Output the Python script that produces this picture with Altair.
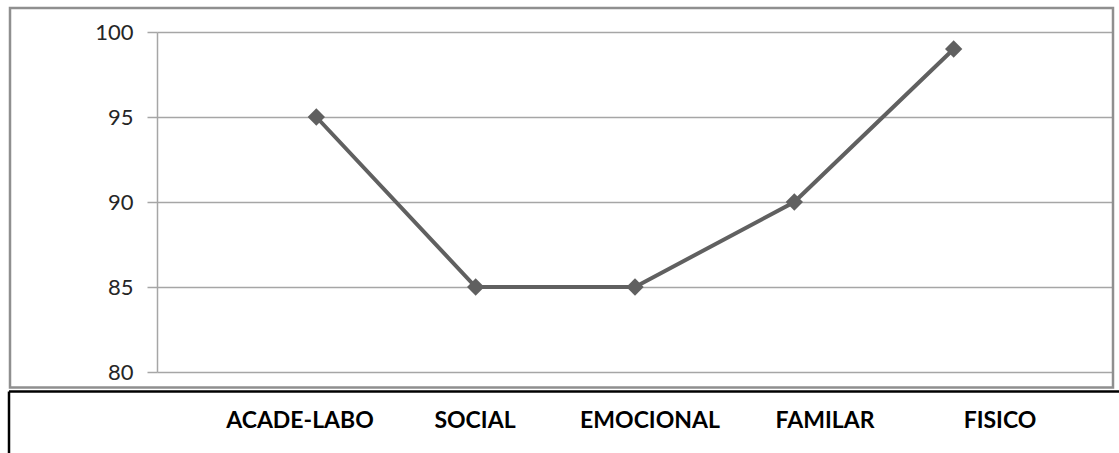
import altair as alt
import pandas as pd

categories = ["ACADE-LABO", "SOCIAL", "EMOCIONAL", "FAMILAR", "FISICO"]
values = [95, 85, 85, 90, 99]
y_ticks = [80, 85, 90, 95, 100]

df = pd.DataFrame({"cat": categories, "val": values})
one = alt.Data(values=[{"a": 1}])

W, H = 956, 340
GRID = "#a6a6a6"
LINE = "#606060"

# Excel-like slots: an empty slot before the first category and one after the last
slot_domain = [""] + categories + [" "]

xs = alt.X("cat:N", sort=categories, axis=None,
           scale=alt.Scale(type="point", domain=slot_domain, padding=0))
ys = alt.Y("val:Q", title=None,
           scale=alt.Scale(domain=[80, 100], nice=False, zero=False),
           axis=alt.Axis(values=y_ticks, grid=True, gridColor=GRID, gridWidth=1.5,
                         domainColor=GRID, domainWidth=1.5, tickColor=GRID, tickWidth=1.5,
                         tickSize=10, labelFont="Lato", labelFontSize=22,
                         labelColor="#262626", labelPadding=14))

line = alt.Chart(df).mark_line(color=LINE, strokeWidth=4).encode(x=xs, y=ys)
pts = alt.Chart(df).mark_point(shape="diamond", filled=True, color=LINE, size=300, opacity=1).encode(x=xs, y=ys)

border = alt.Chart(one).mark_rect(fill=None, stroke="#8f8f8f", strokeWidth=2.5).encode(
    x=alt.value(-147), x2=alt.value(956), y=alt.value(-24), y2=alt.value(355.5)
)
black_h = alt.Chart(one).mark_rule(color="black", strokeWidth=2.5).encode(
    x=alt.value(-148), x2=alt.value(962), y=alt.value(359.5)
)
black_v = alt.Chart(one).mark_rule(color="black", strokeWidth=2.5).encode(
    x=alt.value(-148), y=alt.value(359.5), y2=alt.value(425)
)

labels = alt.Chart(df).mark_text(font="Lato", fontSize=23, fontWeight="bold", color="black",
                                 baseline="alphabetic", align="center").encode(
    x=alt.X("cat:N", sort=categories, axis=None,
            scale=alt.Scale(type="point", domain=categories, range=[143, 843], padding=0)),
    y=alt.value(396),
    text="cat:N",
)

main = alt.layer(line, pts)
chart = alt.layer(main, border, black_h, black_v, labels).resolve_scale(x="independent").properties(
    width=W, height=H,
    autosize=alt.AutoSizeParams(type="none"),
    padding={"left": 157, "top": 32, "right": 6, "bottom": 81},
    background="white",
).configure_view(stroke=None)

chart.save("out.html", embed_options={"renderer": "svg", "actions": False})
